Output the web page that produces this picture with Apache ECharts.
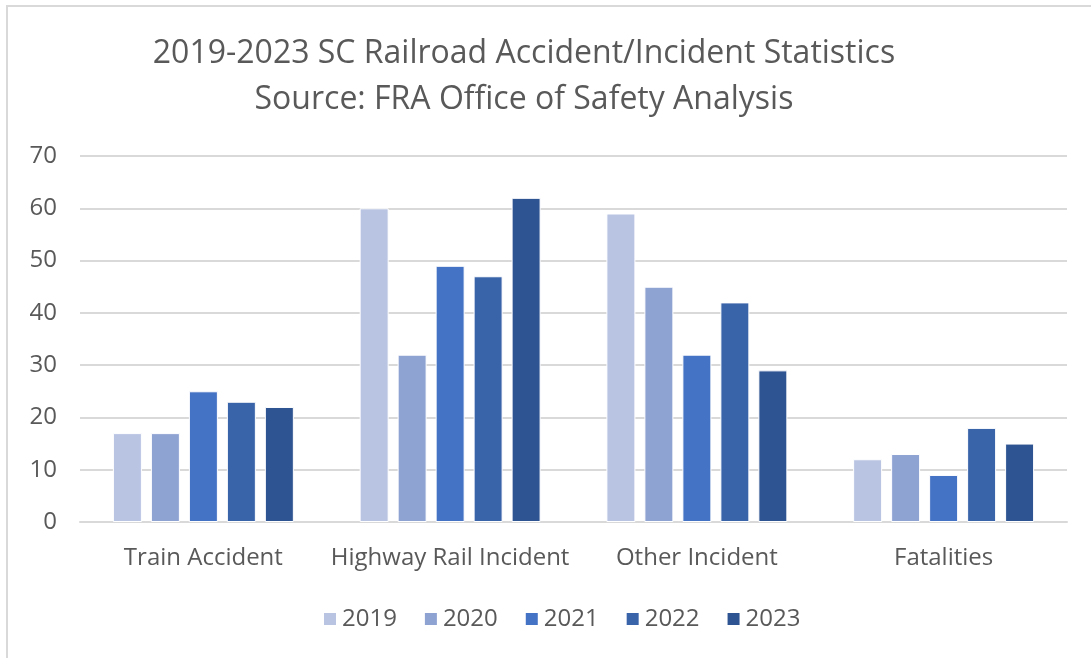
<!DOCTYPE html>
<html>
<head>
<meta charset="utf-8">
<script src="https://cdn.jsdelivr.net/npm/echarts@6/dist/echarts.min.js"></script>
<style>
  html, body { margin: 0; padding: 0; background: #fff; }
  #chart { width: 1091px; height: 658px; }
</style>
</head>
<body>
<div id="chart"></div>
<script>
// categories and yearly counts
const categories = ['Train Accident', 'Highway Rail Incident', 'Other Incident', 'Fatalities']
const years = ['2019', '2020', '2021', '2022', '2023']
const v2019 = [17, 60, 59, 12]
const v2020 = [17, 32, 45, 13]
const v2021 = [25, 49, 32, 9]
const v2022 = [23, 47, 42, 18]
const v2023 = [22, 62, 29, 15]
const colors = ['#B9C3E2', '#8FA3D3', '#4472C4', '#3A64AA', '#2F5492']

const font = '"Open Sans", sans-serif'
const values = [v2019, v2020, v2021, v2022, v2023]

let myChart = echarts.init(document.getElementById('chart'))
let option = {
    animation: false,
    title: {
        text: '2019-2023 SC Railroad Accident/Incident Statistics\nSource: FRA Office of Safety Analysis',
        left: 519,
        textAlign: 'center',
        top: 26,
        textStyle: {
            color: '#595959',
            fontFamily: font,
            fontWeight: 'normal',
            fontSize: 32,
            lineHeight: 46
        }
    },
    legend: {
        bottom: 22,
        left: 317,
        itemWidth: 14,
        itemHeight: 14,
        itemGap: 26,
        icon: 'rect',
        textStyle: { color: '#595959', fontFamily: font, fontSize: 24 },
        data: years
    },
    grid: {
        left: 80,
        right: 24,
        top: 156,
        bottom: 136
    },
    xAxis: {
        type: 'category',
        data: categories,
        axisLine: { lineStyle: { color: '#D9D9D9', width: 2 } },
        axisTick: { show: false },
        axisLabel: { color: '#595959', fontFamily: font, fontSize: 24, margin: 24, interval: 0 }
    },
    yAxis: {
        type: 'value',
        min: 0,
        max: 70,
        interval: 10,
        axisLine: { show: false },
        axisTick: { show: false },
        axisLabel: { color: '#595959', fontFamily: font, fontSize: 24, margin: 23 },
        splitLine: { lineStyle: { color: '#D9D9D9', width: 2 } }
    },
    graphic: [{
        type: 'rect',
        shape: { x: 7, y: 6, width: 1100, height: 700 },
        style: { fill: 'none', stroke: '#D9D9D9', lineWidth: 2 },
        silent: true
    }],
    series: years.map((y, i) => ({
        name: y,
        type: 'bar',
        data: values[i],
        barWidth: 29,
        barGap: '31%',
        itemStyle: { color: colors[i], borderColor: '#fff', borderWidth: 1 }
    }))
}
myChart.setOption(option)
</script>
</body>
</html>
